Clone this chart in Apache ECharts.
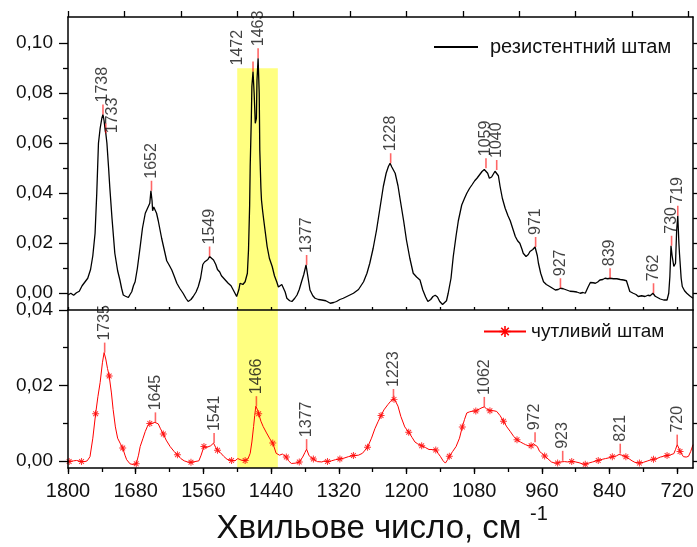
<!DOCTYPE html>
<html>
<head>
<meta charset="utf-8">
<script src="https://cdn.jsdelivr.net/npm/echarts@6/dist/echarts.min.js"></script>
<style>html,body{margin:0;padding:0;background:#fff}#c{width:697px;height:547px}</style>
</head>
<body>
<div id="c"></div>
<script>
// ---------- DATA ----------
const xTickLabels = [1800, 1680, 1560, 1440, 1320, 1200, 1080, 960, 840, 720];
const xMinorTicks = [1800, 1740, 1680, 1620, 1560, 1500, 1440, 1380, 1320, 1260, 1200, 1140, 1080, 1020, 960, 900, 840, 780, 720];
const xTopTicks = [1800, 1700, 1600, 1500, 1400, 1300, 1200, 1100, 1000, 900, 800, 700];
const yTopTicks = [0, 0.02, 0.04, 0.06, 0.08, 0.10];
const yTopMinor = [0.01, 0.03, 0.05, 0.07, 0.09];
const yTopRight = [0, 0.01, 0.02, 0.03, 0.04, 0.05, 0.06, 0.07, 0.08, 0.09, 0.10];
const yBotTicks = [0, 0.02, 0.04];
const yBotMinor = [0.01, 0.03];
const yBotRight = [0, 0.01, 0.02, 0.03];
const highlightBand = [1500, 1428, 0.09]; // wavenumber from, to, top-panel height

const seriesNames = ['резистентний штам', 'чутливий штам'];

const resistant = [
[1800,-0.0007],[1795,0.0000],[1790,-0.0008],[1785,0.0002],[1780,0.0008],[1775,0.0030],[1770,0.0045],[1765,0.0060],
[1760,0.0095],[1756,0.0150],[1752,0.0240],[1749,0.0400],[1746,0.0600],[1743,0.0660],[1740,0.0700],[1738,0.0715],
[1736,0.0690],[1734,0.0650],[1733,0.0640],[1731,0.0600],[1728,0.0500],[1726,0.0427],[1722,0.0300],[1717,0.0160],
[1712,0.0090],[1708,0.0053],[1705,0.0020],[1702,-0.0007],[1698,-0.0012],[1693,-0.0017],[1690,-0.0005],[1687,0.0006],
[1684,0.0030],[1681,0.0046],[1677,0.0100],[1672,0.0187],[1668,0.0260],[1663,0.0320],[1660,0.0335],[1658,0.0330],
[1655,0.0360],[1653,0.0410],[1651,0.0370],[1650,0.0330],[1648,0.0345],[1646,0.0347],[1643,0.0320],[1640,0.0290],
[1637,0.0255],[1634,0.0220],[1630,0.0180],[1625,0.0130],[1620,0.0110],[1616,0.0093],[1612,0.0070],[1607,0.0040],
[1602,0.0020],[1596,0.0000],[1591,-0.0020],[1587,-0.0033],[1582,-0.0025],[1578,-0.0013],[1573,0.0005],[1569,0.0027],
[1565,0.0060],[1561,0.0115],[1558,0.0125],[1555,0.0118],[1552,0.0135],[1549,0.0147],[1546,0.0140],[1542,0.0133],
[1538,0.0115],[1535,0.0095],[1531,0.0085],[1528,0.0070],[1525,0.0067],[1520,0.0050],[1516,0.0040],[1511,0.0030],
[1507,0.0013],[1501,-0.0013],[1497,0.0015],[1495,0.0040],[1490,0.0035],[1486,0.0046],[1482,0.0080],[1480,0.0173],
[1478,0.0350],[1477,0.0507],[1475,0.0700],[1474,0.0827],[1472,0.0887],[1470,0.0800],[1468,0.0680],[1466,0.0700],
[1465,0.0850],[1463,0.0940],[1461,0.0800],[1460,0.0573],[1458,0.0420],[1457,0.0373],[1455,0.0330],[1453,0.0293],
[1450,0.0240],[1447,0.0187],[1443,0.0140],[1438,0.0107],[1434,0.0070],[1430,0.0046],[1427,0.0025],[1424,0.0020],
[1421,0.0035],[1418,0.0033],[1415,0.0005],[1412,-0.0020],[1407,-0.0030],[1403,-0.0033],[1398,-0.0020],[1394,-0.0007],
[1390,0.0015],[1386,0.0046],[1382,0.0075],[1378,0.0113],[1375,0.0070],[1371,0.0013],[1366,-0.0010],[1362,-0.0020],
[1356,-0.0025],[1350,-0.0027],[1343,-0.0030],[1335,-0.0040],[1329,-0.0037],[1324,-0.0033],[1318,-0.0025],[1312,-0.0020],
[1303,-0.0010],[1294,0.0000],[1285,0.0015],[1276,0.0046],[1270,0.0080],[1265,0.0120],[1259,0.0180],[1253,0.0253],
[1247,0.0340],[1241,0.0427],[1236,0.0480],[1232,0.0507],[1229,0.0520],[1226,0.0505],[1220,0.0480],[1215,0.0430],
[1211,0.0373],[1205,0.0290],[1200,0.0213],[1194,0.0140],[1188,0.0080],[1182,0.0065],[1176,0.0053],[1171,0.0013],
[1166,-0.0015],[1162,-0.0033],[1157,-0.0025],[1153,-0.0013],[1149,-0.0008],[1145,-0.0015],[1141,-0.0033],[1136,-0.0045],
[1133,-0.0047],[1129,-0.0030],[1126,0.0000],[1121,0.0060],[1117,0.0147],[1112,0.0230],[1108,0.0290],[1102,0.0353],
[1097,0.0380],[1093,0.0400],[1088,0.0420],[1084,0.0433],[1079,0.0450],[1075,0.0460],[1070,0.0475],[1066,0.0487],
[1062,0.0495],[1059,0.0500],[1056,0.0480],[1053,0.0460],[1049,0.0465],[1046,0.0473],[1043,0.0488],[1040,0.0493],
[1037,0.0470],[1034,0.0427],[1030,0.0380],[1025,0.0340],[1020,0.0310],[1016,0.0290],[1011,0.0255],[1007,0.0227],
[1003,0.0210],[999,0.0200],[995,0.0175],[993,0.0160],[988,0.0147],[984,0.0155],[981,0.0167],[976,0.0175],
[972,0.0185],[968,0.0150],[966,0.0120],[962,0.0080],[957,0.0046],[952,0.0035],[946,0.0027],[941,0.0020],
[936,0.0013],[931,0.0015],[927,0.0020],[922,0.0018],[916,0.0013],[910,0.0008],[904,0.0007],[898,0.0005],
[892,0.0000],[887,0.0003],[883,0.0000],[878,0.0025],[874,0.0043],[869,0.0042],[865,0.0040],[861,0.0045],
[857,0.0053],[852,0.0055],[848,0.0060],[843,0.0058],[839,0.0060],[833,0.0058],[827,0.0058],[821,0.0055],
[815,0.0053],[810,0.0050],[807,0.0046],[804,0.0007],[801,0.0010],[798,0.0000],[793,-0.0005],[789,-0.0013],
[783,-0.0010],[777,-0.0013],[772,-0.0008],[768,-0.0010],[763,0.0000],[759,-0.0012],[756,-0.0020],[750,-0.0023],
[744,-0.0027],[738,-0.0027],[735,0.0000],[733,0.0067],[731,0.0190],[729,0.0150],[726,0.0107],[723,0.0120],
[721,0.0250],[719,0.0310],[717,0.0200],[716,0.0160],[713,0.0060],[711,0.0027],[707,0.0010],[703,0.0000],
[698,-0.0010],[692,-0.0020]
];

const sensitive = [
[1800,-0.0002],[1798,-0.0002],[1790,0.0000],[1785,0.0001],[1776,-0.0002],[1770,-0.0002],[1766,0.0000],[1761,0.0011],
[1756,0.0060],[1751,0.0125],[1747,0.0170],[1743,0.0208],[1739,0.0260],[1736,0.0287],[1733,0.0270],[1730,0.0245],
[1727,0.0225],[1723,0.0180],[1720,0.0136],[1716,0.0090],[1712,0.0060],[1707,0.0045],[1703,0.0034],[1699,0.0015],
[1696,0.0003],[1690,-0.0008],[1684,-0.0010],[1679,-0.0008],[1675,0.0015],[1672,0.0038],[1667,0.0060],[1663,0.0078],
[1659,0.0092],[1655,0.0099],[1650,0.0100],[1646,0.0102],[1640,0.0098],[1636,0.0085],[1631,0.0071],[1626,0.0055],
[1619,0.0038],[1612,0.0025],[1606,0.0016],[1600,0.0006],[1594,0.0000],[1588,-0.0003],[1582,-0.0004],[1575,-0.0002],
[1568,0.0000],[1564,0.0015],[1559,0.0038],[1555,0.0035],[1552,0.0030],[1547,0.0040],[1542,0.0047],[1538,0.0035],
[1535,0.0028],[1530,0.0022],[1524,0.0012],[1518,0.0004],[1510,0.0001],[1504,0.0000],[1499,0.0006],[1493,0.0002],
[1486,0.0001],[1481,0.0005],[1477,0.0020],[1474,0.0050],[1471,0.0091],[1469,0.0120],[1467,0.0145],[1464,0.0135],
[1462,0.0125],[1458,0.0105],[1454,0.0091],[1448,0.0074],[1442,0.0058],[1437,0.0047],[1431,0.0020],[1425,0.0015],
[1420,0.0018],[1413,0.0010],[1409,0.0000],[1404,-0.0007],[1396,-0.0006],[1390,-0.0003],[1384,0.0010],[1380,0.0022],
[1377,0.0031],[1373,0.0015],[1369,0.0008],[1365,0.0005],[1358,-0.0002],[1350,-0.0003],[1345,0.0000],[1340,-0.0002],
[1333,0.0000],[1326,0.0003],[1318,0.0005],[1311,0.0007],[1303,0.0011],[1294,0.0014],[1285,0.0015],[1278,0.0020],
[1269,0.0036],[1262,0.0060],[1256,0.0085],[1250,0.0105],[1245,0.0120],[1240,0.0135],[1233,0.0149],[1228,0.0158],
[1224,0.0164],[1220,0.0160],[1215,0.0145],[1210,0.0118],[1203,0.0090],[1196,0.0076],[1190,0.0062],[1185,0.0050],
[1180,0.0045],[1173,0.0040],[1166,0.0035],[1160,0.0030],[1154,0.0030],[1148,0.0029],[1144,0.0020],[1140,0.0012],
[1135,0.0000],[1131,-0.0006],[1127,0.0003],[1124,0.0012],[1118,0.0025],[1112,0.0038],[1106,0.0060],[1101,0.0090],
[1097,0.0110],[1093,0.0127],[1088,0.0130],[1082,0.0132],[1077,0.0132],[1070,0.0138],[1066,0.0141],[1062,0.0143],
[1058,0.0138],[1052,0.0133],[1046,0.0133],[1040,0.0131],[1034,0.0120],[1028,0.0105],[1022,0.0090],[1016,0.0078],
[1010,0.0065],[1004,0.0056],[998,0.0050],[993,0.0046],[989,0.0043],[984,0.0040],[979,0.0040],[975,0.0045],
[972,0.0049],[968,0.0038],[964,0.0025],[960,0.0020],[955,0.0013],[949,0.0005],[943,-0.0003],[937,-0.0006],
[932,-0.0006],[927,-0.0003],[924,0.0000],[920,-0.0002],[914,-0.0003],[907,-0.0002],[900,-0.0003],[894,-0.0005],
[888,-0.0008],[883,-0.0009],[877,-0.0006],[870,-0.0003],[865,-0.0001],[860,0.0001],[853,0.0004],[847,0.0006],
[841,0.0008],[835,0.0011],[828,0.0013],[823,0.0017],[821,0.0019],[818,0.0015],[811,0.0011],[805,0.0005],
[800,0.0000],[795,-0.0004],[787,-0.0006],[780,-0.0004],[772,0.0000],[766,0.0003],[762,0.0004],[756,0.0006],
[750,0.0010],[744,0.0012],[738,0.0014],[732,0.0016],[726,0.0019],[723,0.0030],[720,0.0043],[717,0.0033],
[715,0.0025],[712,0.0018],[709,0.0011],[704,0.0010],[700,0.0012],[696,0.0025],[692,0.0043]
];

const sensitiveMarkers = [
[1798,-0.0002],[1776,-0.0002],[1751,0.0125],[1727,0.0225],[1703,0.0034],[1679,-0.0008],[1655,0.0099],[1631,0.0071],
[1606,0.0016],[1582,-0.0004],[1559,0.0038],[1535,0.0028],[1510,0.0001],[1486,0.0001],[1462,0.0125],[1437,0.0047],
[1413,0.0010],[1390,-0.0003],[1365,0.0005],[1340,-0.0002],[1318,0.0005],[1294,0.0014],[1269,0.0036],[1245,0.0120],
[1222,0.0163],[1196,0.0076],[1173,0.0040],[1148,0.0029],[1124,0.0012],[1101,0.0090],[1077,0.0132],[1052,0.0133],
[1028,0.0105],[1004,0.0056],[979,0.0040],[955,0.0013],[932,-0.0006],[907,-0.0002],[883,-0.0009],[860,0.0001],
[835,0.0011],[811,0.0011],[787,-0.0006],[762,0.0004],[738,0.0014],[715,0.0025]
];

const resistantPeaks = [
[1738,0.0715],[1733,0.0640],[1652,0.0410],[1549,0.0147],[1472,0.0887],[1463,0.0940],[1377,0.0113],[1228,0.0520],
[1059,0.0500],[1040,0.0493],[971,0.0185],[927,0.0020],[839,0.0060],[762,0.0000],[730,0.0190],[719,0.0310]
];
const sensitivePeaks = [
[1735,0.0287],[1645,0.0102],[1541,0.0047],[1466,0.0145],[1377,0.0031],[1223,0.0164],[1062,0.0143],[972,0.0049],
[923,0.0000],[821,0.0019],[720,0.0043]
];

// ---------- LAYOUT / STYLE ----------
const X_MIN = 692, X_MAX = 1800;
const TOP_Y = [-0.0067, 0.1105];
const BOT_Y = [-0.0019, 0.04];
const FONT = 'Liberation Sans, Arial, sans-serif';
// label offsets are given in the rotated frame: [up, right]
const labelOffsets = { 1733: [-12, 7], 1472: [-6, -15] };
const star = 'path://M-5,-0.7L5,-0.7L5,0.7L-5,0.7Z M-0.7,-5L0.7,-5L0.7,5L-0.7,5Z M-3.9,-2.9L-2.9,-3.9L3.9,2.9L2.9,3.9Z M2.9,-3.9L3.9,-2.9L-2.9,3.9L-3.9,2.9Z';
const fmt = v => v.toFixed(2).replace('.', ',');

function xAx(grid, pos, ticks, len, inside, labels, lineShow) {
  return {
    type: 'value', gridIndex: grid, position: pos, min: X_MIN, max: X_MAX, inverse: true, z: 5,
    axisLine: { show: lineShow, onZero: false, lineStyle: { color: '#000', width: 1.5 } },
    axisTick: { show: true, inside: inside, length: len, customValues: ticks, lineStyle: { color: '#000', width: 1.3 } },
    axisLabel: labels ? { show: true, customValues: labels, formatter: v => String(v), margin: 13, fontSize: 20, color: '#111', fontFamily: FONT } : { show: false },
    splitLine: { show: false }
  };
}
function yAx(grid, pos, range, ticks, len, labels, lineShow) {
  return {
    type: 'value', gridIndex: grid, position: pos, min: range[0], max: range[1], z: 5,
    axisLine: { show: lineShow, onZero: false, lineStyle: { color: '#000', width: 1.5 } },
    axisTick: { show: true, length: len, customValues: ticks, lineStyle: { color: '#000', width: 1.3 } },
    axisLabel: labels ? { show: true, customValues: labels, formatter: fmt, margin: 15, fontSize: 19, color: '#111', fontFamily: FONT } : { show: false },
    splitLine: { show: false }
  };
}

function peakTicks(data, xi, yi) {
  return {
    type: 'scatter', xAxisIndex: xi, yAxisIndex: yi, data: data, z: 4, silent: true,
    symbol: 'rect', symbolSize: [1.6, 10], symbolOffset: [0, '-50%'],
    itemStyle: { color: 'rgba(255,0,0,0.75)' }
  };
}
function peakLabels(data, xi, yi) {
  return {
    type: 'scatter', xAxisIndex: xi, yAxisIndex: yi, z: 6, silent: true,
    symbolSize: 0,
    data: data.map(p => ({ value: p, label: labelOffsets[p[0]] && xi === 0 ? { offset: labelOffsets[p[0]] } : {} })),
    label: {
      show: true, position: 'top', distance: 12, rotate: 90, align: 'left', verticalAlign: 'middle',
      formatter: p => String(p.value[0]), fontSize: 16, color: '#111', fontFamily: FONT
    }
  };
}

const chart = echarts.init(document.getElementById('c'), null, { renderer: 'canvas' });
chart.setOption({
  animation: false,
  backgroundColor: '#fff',
  grid: [
    { left: 68, top: 17, width: 625, height: 293 },
    { left: 68, top: 310, width: 625, height: 158 }
  ],
  xAxis: [
    xAx(0, 'top', xTopTicks, 6, false, null, true),
    xAx(0, 'bottom', xMinorTicks, 3, true, null, true),
    xAx(1, 'bottom', xTickLabels, 6, false, xTickLabels, true),
    xAx(1, 'bottom', xMinorTicks, 4, false, null, false)
  ],
  yAxis: [
    yAx(0, 'left', TOP_Y, yTopTicks, 9, yTopTicks, true),
    yAx(0, 'left', TOP_Y, yTopMinor, 5, null, false),
    yAx(0, 'right', TOP_Y, yTopRight, 5, null, true),
    yAx(1, 'left', BOT_Y, yBotTicks, 9, yBotTicks, true),
    yAx(1, 'left', BOT_Y, yBotMinor, 5, null, false),
    yAx(1, 'right', BOT_Y, yBotRight, 5, null, true)
  ],
  legend: [
    { data: [seriesNames[0]], left: 433, top: 37, itemWidth: 44, itemHeight: 14, padding: 0,
      itemStyle: { opacity: 0 }, lineStyle: { opacity: 1 },
      textStyle: { fontSize: 20, color: '#111', fontFamily: FONT, padding: [0, 0, 0, 7] } },
    { data: [seriesNames[1]], left: 483, top: 322, itemWidth: 42, itemHeight: 14, padding: 0,
      textStyle: { fontSize: 19, color: '#111', fontFamily: FONT } }
  ],
  series: [
    { name: seriesNames[0], type: 'line', xAxisIndex: 0, yAxisIndex: 0, data: resistant, symbol: 'none', z: 2,
      lineStyle: { color: '#000', width: 1.3 }, itemStyle: { color: '#000' },
      markArea: { silent: true, z: 1, itemStyle: { color: '#ffff80' },
        data: [[{ xAxis: highlightBand[0], yAxis: highlightBand[2] }, { xAxis: highlightBand[1], yAxis: TOP_Y[0] }]] } },
    { name: seriesNames[1], type: 'line', xAxisIndex: 2, yAxisIndex: 3, data: sensitive, symbol: star, symbolSize: 7,
      showSymbol: false, z: 2, lineStyle: { color: '#ff0000', width: 1 }, itemStyle: { color: '#ff0000' },
      markArea: { silent: true, z: 1, itemStyle: { color: '#ffff80' },
        data: [[{ xAxis: highlightBand[0], yAxis: BOT_Y[0] }, { xAxis: highlightBand[1], yAxis: BOT_Y[1] }]] } },
    { type: 'scatter', xAxisIndex: 2, yAxisIndex: 3, data: sensitiveMarkers, symbol: star, symbolSize: 7, z: 3,
      silent: true, itemStyle: { color: '#ff0000' } },
    peakTicks(resistantPeaks, 0, 0),
    peakTicks(sensitivePeaks, 2, 3),
    peakLabels(resistantPeaks, 0, 0),
    peakLabels(sensitivePeaks, 2, 3)
  ],
  graphic: [
    { type: 'text', z: 10, style: { text: 'Хвильове число, см', x: 369, y: 529, textAlign: 'center', textVerticalAlign: 'middle',
      font: '33px ' + FONT, fill: '#111' } },
    { type: 'text', z: 10, style: { text: '-1', x: 530, y: 514, textAlign: 'left', textVerticalAlign: 'middle',
      font: '20px ' + FONT, fill: '#111' } }
  ]
});
</script>
</body>
</html>
